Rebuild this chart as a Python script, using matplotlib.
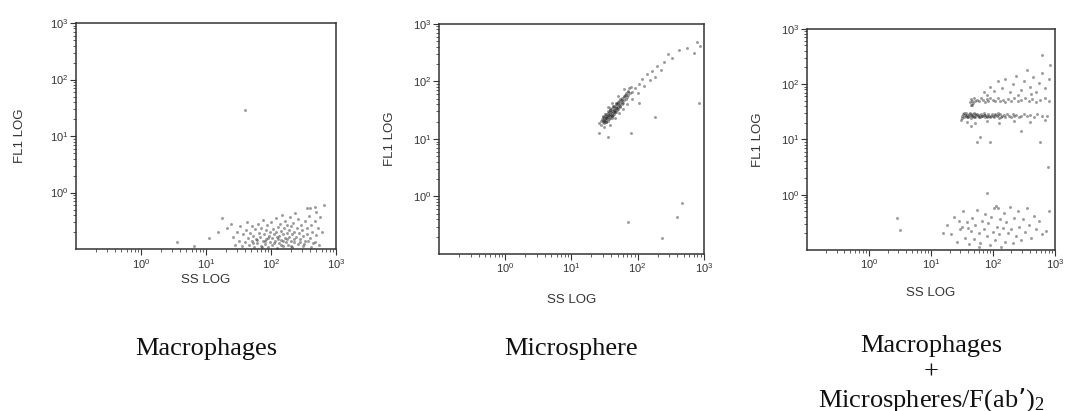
import matplotlib

matplotlib.use("Agg")
import matplotlib.pyplot as plt  # noqa: E402
import numpy as np  # noqa: E402
from matplotlib.ticker import FixedLocator, LogLocator, NullFormatter  # noqa: E402

plt.rcParams["font.family"] = ["Liberation Sans", "DejaVu Sans"]
plt.rcParams["mathtext.default"] = "regular"

# Event positions, in decades (log10 of channel value).
# Panel 1: macrophages alone
mac_ss = [
    1.32, 1.38, 1.41, 1.45, 1.48, 1.50, 1.52, 1.55, 1.57, 1.60, 1.61, 1.63, 1.65, 1.66,
    1.68, 1.70, 1.71, 1.73, 1.74, 1.76, 1.77, 1.79, 1.80, 1.81, 1.83, 1.84, 1.85, 1.87,
    1.88, 1.89, 1.90, 1.92, 1.93, 1.94, 1.95, 1.97, 1.98, 1.99, 2.00, 2.01, 2.02, 2.03,
    2.05, 2.06, 2.07, 2.08, 2.09, 2.10, 2.11, 2.12, 2.13, 2.14, 2.15, 2.16, 2.17, 2.18,
    2.19, 2.20, 2.21, 2.22, 2.23, 2.24, 2.25, 2.26, 2.27, 2.28, 2.29, 2.30, 2.31, 2.32,
    2.33, 2.34, 2.35, 2.36, 2.37, 2.38, 2.40, 2.41, 2.42, 2.43, 2.45, 2.46, 2.48, 2.49,
    2.50, 2.52, 2.53, 2.55, 2.56, 2.58, 2.60, 2.61, 2.63, 2.65, 2.67, 2.70, 2.72, 2.75,
    2.78, 2.82, 1.72, 1.78, 1.86, 1.91, 1.96, 2.04, 2.09, 2.15, 2.19, 2.24, 2.30, 2.35,
    2.44, 2.51, 2.57, 2.62, 2.68, 2.74, 2.55, 2.60, 2.68, 2.70, 0.55, 0.82, 1.05, 1.18,
    1.25, 1.60,
]
mac_fl1 = [
    -0.62, -0.55, -0.78, -0.92, -0.70, -0.85, -0.60, -0.95, -0.74, -0.88, -0.66, -0.52,
    -0.81, -0.93, -0.71, -0.59, -0.86, -0.77, -0.97, -0.64, -0.83, -0.90, -0.55, -0.72,
    -0.79, -0.94, -0.62, -0.85, -0.48, -0.73, -0.91, -0.67, -0.82, -0.58, -0.96, -0.76,
    -0.69, -0.88, -0.52, -0.80, -0.93, -0.64, -0.74, -0.86, -0.45, -0.70, -0.98, -0.61,
    -0.83, -0.77, -0.90, -0.55, -0.68, -0.84, -0.39, -0.73, -0.95, -0.63, -0.81, -0.50,
    -0.88, -0.71, -0.58, -0.92, -0.66, -0.79, -0.44, -0.85, -0.60, -0.74, -0.97, -0.53,
    -0.69, -0.87, -0.36, -0.78, -0.62, -0.91, -0.47, -0.72, -0.83, -0.57, -0.67, -0.94,
    -0.76, -0.51, -0.86, -0.63, -0.73, -0.41, -0.80, -0.58, -0.69, -0.89, -0.50, -0.75,
    -0.62, -0.43, -0.70, -0.22, -0.89, -0.84, -0.97, -0.86, -0.80, -0.89, -0.79, -0.93,
    -0.86, -0.83, -0.94, -0.82, -0.88, -0.91, -0.85, -0.96, -0.87, -0.92, -0.28, -0.27,
    -0.25, -0.35, -0.88, -0.94, -0.80, -0.70, -0.45, 1.46,
]

# Panel 2: microspheres alone
sph_ss = [
    1.42, 1.44, 1.45, 1.46, 1.47, 1.48, 1.48, 1.49, 1.50, 1.50, 1.51, 1.51, 1.52, 1.52,
    1.53, 1.53, 1.54, 1.54, 1.55, 1.55, 1.56, 1.56, 1.57, 1.57, 1.58, 1.58, 1.59, 1.59,
    1.60, 1.60, 1.61, 1.61, 1.62, 1.62, 1.63, 1.63, 1.64, 1.64, 1.65, 1.65, 1.66, 1.66,
    1.67, 1.67, 1.68, 1.68, 1.69, 1.69, 1.70, 1.71, 1.71, 1.72, 1.73, 1.73, 1.74, 1.75,
    1.76, 1.76, 1.77, 1.78, 1.79, 1.80, 1.81, 1.82, 1.83, 1.84, 1.85, 1.86, 1.87, 1.88,
    1.90, 1.91, 1.50, 1.58, 1.66, 1.72, 1.78, 1.84, 1.62, 1.55, 1.70, 1.80, 1.92, 1.96,
    2.00, 2.02, 2.06, 2.10, 2.14, 2.18, 2.22, 2.26, 2.30, 2.35, 2.40, 2.46, 2.52, 2.62,
    2.75, 2.90, 2.94, 2.02, 2.26, 1.55, 1.90, 2.93, 2.67, 2.60, 2.37, 1.85, 1.42, 2.85,
    1.47, 1.49, 1.51, 1.53, 1.55, 1.57, 1.59, 1.61, 1.63, 1.65, 1.67, 1.69, 1.72, 1.74,
    1.77, 1.80, 1.83, 1.86, 1.53, 1.58, 1.62, 1.66, 1.70,
]
sph_fl1 = [
    1.27, 1.31, 1.25, 1.35, 1.29, 1.33, 1.38, 1.27, 1.36, 1.31, 1.40, 1.34, 1.29, 1.38,
    1.43, 1.33, 1.36, 1.40, 1.31, 1.45, 1.38, 1.42, 1.35, 1.47, 1.40, 1.44, 1.37, 1.50,
    1.42, 1.46, 1.39, 1.52, 1.45, 1.49, 1.42, 1.55, 1.47, 1.51, 1.44, 1.57, 1.50, 1.54,
    1.47, 1.60, 1.53, 1.57, 1.50, 1.63, 1.56, 1.60, 1.52, 1.66, 1.58, 1.62, 1.55, 1.68,
    1.61, 1.65, 1.71, 1.63, 1.74, 1.67, 1.77, 1.70, 1.80, 1.73, 1.84, 1.76, 1.88, 1.79,
    1.91, 1.82, 1.20, 1.25, 1.36, 1.45, 1.52, 1.60, 1.62, 1.55, 1.74, 1.86, 1.70, 1.88,
    1.80, 1.95, 2.05, 1.92, 2.12, 2.02, 2.18, 2.08, 2.27, 2.20, 2.34, 2.48, 2.40, 2.55,
    2.58, 2.68, 2.62, 1.62, 1.38, 1.03, 1.10, 1.63, -0.11, -0.36, -0.72, -0.44, 1.10, 2.50,
    1.39, 1.32, 1.43, 1.37, 1.48, 1.41, 1.53, 1.36, 1.58, 1.49, 1.63, 1.54, 1.59, 1.70,
    1.67, 1.72, 1.76, 1.81, 1.30, 1.51, 1.40, 1.46, 1.65,
]

# Panel 3: macrophages + microspheres/F(ab')2
mix_ss = [
    # lower bright band
    1.50, 1.52, 1.53, 1.55, 1.56, 1.58, 1.59, 1.61, 1.62, 1.64, 1.65, 1.67, 1.68, 1.70,
    1.71, 1.73, 1.75, 1.76, 1.78, 1.80, 1.81, 1.83, 1.85, 1.87, 1.88, 1.90, 1.92, 1.94,
    1.96, 1.98, 2.00, 2.02, 2.04, 2.06, 2.08, 2.10, 2.12, 2.15, 2.18, 2.20, 2.23, 2.26,
    2.29, 2.32, 2.35, 2.38, 2.42, 2.46, 2.50, 2.55, 2.60, 2.66, 2.72, 2.80, 2.88, 1.51,
    1.54, 1.57, 1.60, 1.63, 1.66, 1.69, 1.72, 1.77, 1.82, 1.86, 1.91, 1.97, 2.03, 2.09,
    2.14, 1.48, 1.58, 1.72, 1.90, 2.10, 2.35, 2.60, 1.74, 1.95, 2.76, 1.80, 2.45, 1.65,
    2.85,
    # upper band
    1.63, 1.65, 1.67, 1.70, 1.72, 1.75, 1.78, 1.81, 1.84, 1.87, 1.90, 1.93, 1.96, 2.00,
    2.04, 2.08, 2.12, 2.16, 2.20, 2.25, 2.30, 2.35, 2.40, 2.46, 2.52, 2.58, 2.64, 2.70,
    2.76, 2.84, 2.90, 1.64, 1.66, 1.68,
    # sparse above
    1.85, 1.95, 2.02, 2.08, 2.15, 2.20, 2.28, 2.32, 2.38, 2.45, 2.50, 2.55, 2.60, 2.65,
    2.70, 2.75, 2.80, 2.85, 2.90, 2.79, 2.93, 2.40, 2.62, 1.90,
    # macrophage cluster
    1.26, 1.32, 1.38, 1.42, 1.47, 1.52, 1.55, 1.58, 1.62, 1.64, 1.67, 1.70, 1.72, 1.75,
    1.77, 1.80, 1.82, 1.85, 1.87, 1.90, 1.92, 1.95, 1.97, 2.00, 2.02, 2.04, 2.06, 2.08,
    2.10, 2.12, 2.14, 2.16, 2.18, 2.20, 2.22, 2.25, 2.27, 2.30, 2.32, 2.35, 2.38, 2.40,
    2.43, 2.46, 2.49, 2.52, 2.55, 2.58, 2.62, 2.66, 2.70, 2.75, 2.80, 2.86, 2.90, 1.60,
    1.50, 1.45, 2.05, 1.78,
    # outliers
    0.50, 0.45, 1.90, 2.89, 1.20,
]
mix_fl1 = [
    1.42, 1.45, 1.40, 1.44, 1.47, 1.41, 1.44, 1.46, 1.42, 1.44, 1.39, 1.45, 1.43, 1.47,
    1.41, 1.44, 1.46, 1.42, 1.44, 1.40, 1.45, 1.43, 1.47, 1.41, 1.44, 1.42, 1.46, 1.43,
    1.40, 1.45, 1.43, 1.41, 1.46, 1.42, 1.44, 1.39, 1.45, 1.42, 1.44, 1.40, 1.46, 1.43,
    1.41, 1.45, 1.42, 1.44, 1.40, 1.43, 1.46, 1.42, 1.44, 1.41, 1.45, 1.43, 1.42, 1.38,
    1.48, 1.43, 1.40, 1.47, 1.42, 1.40, 1.46, 1.41, 1.43, 1.44, 1.40, 1.43, 1.44, 1.47,
    1.41, 1.35, 1.32, 1.30, 1.33, 1.30, 1.34, 1.32, 0.95, 0.95, 0.95, 1.05, 1.15, 1.25,
    1.35,
    1.68, 1.73, 1.70, 1.75, 1.69, 1.72, 1.70, 1.74, 1.71, 1.68, 1.73, 1.70, 1.75, 1.71,
    1.69, 1.74, 1.70, 1.72, 1.68, 1.73, 1.70, 1.74, 1.69, 1.72, 1.75, 1.70, 1.73, 1.68,
    1.72, 1.74, 1.70, 1.62, 1.63, 1.66,
    1.85, 1.95, 1.88, 2.05, 1.92, 2.10, 1.86, 2.00, 2.15, 1.90, 2.05, 2.26, 1.95, 2.12,
    1.85, 2.02, 2.20, 1.92, 2.10, 2.53, 2.35, 1.80, 1.82, 1.80,
    -0.55, -0.72, -0.40, -0.85, -0.62, -0.30, -0.78, -0.50, -0.90, -0.65, -0.42, -0.80,
    -0.55, -0.28, -0.70, -0.88, -0.48, -0.62, -0.35, -0.75, -0.52, -0.92, -0.40, -0.68,
    -0.25, -0.82, -0.58, -0.24, -0.72, -0.45, -0.95, -0.60, -0.33, -0.85, -0.50, -0.70,
    -0.22, -0.62, -0.88, -0.42, -0.75, -0.30, -0.58, -0.82, -0.45, -0.68, -0.25, -0.55,
    -0.78, -0.38, -0.62, -0.48, -0.72, -0.66, -0.30, -0.60, -0.58, -0.48, -0.20, -0.95,
    -0.64, -0.42, 0.03, 0.50, -0.70,
]

CAPTIONS = [
    ["Macrophages"],
    ["Microsphere"],
    ["Macrophages", "+", "Microspheres/F(ab\u2019)$_2$"],
]
DECADES = [1, 10, 100, 1000]
DECADE_LABELS = ["$10^{0}$", "$10^{1}$", "$10^{2}$", "$10^{3}$"]

# axes boxes in figure fractions [left, bottom, width, height]
BOXES = [
    [0.0712, 0.394, 0.2434, 0.550],
    [0.411, 0.382, 0.248, 0.560],
    [0.7556, 0.392, 0.232, 0.538],
]
# label/caption positions in pixels (from the top-left of the picture)
YLABEL_X = [20, 390, 758]
XLABEL_Y = [280, 300, 293]
CAPTION_Y = [349, 349, 346]
CAPTION_STEP = 27

fig = plt.figure(figsize=(10.68, 4.11), dpi=100, facecolor="white")
panels = [(mac_ss, mac_fl1), (sph_ss, sph_fl1), (mix_ss, mix_fl1)]

for i, (ss, fl1) in enumerate(panels):
    ax = fig.add_axes(BOXES[i])
    ax.scatter(
        10 ** np.asarray(ss), 10 ** np.asarray(fl1),
        s=4.5, marker="o", color="#222222", alpha=0.45, linewidths=0,
    )
    ax.set_xscale("log")
    ax.set_yscale("log")
    ax.set_xlim(0.1, 1000)
    ax.set_ylim(0.1, 1000)
    for axis in (ax.xaxis, ax.yaxis):
        axis.set_major_locator(FixedLocator(DECADES))
        axis.set_minor_locator(LogLocator(base=10, subs=np.arange(2, 10), numticks=20))
        axis.set_minor_formatter(NullFormatter())
    ax.set_xticklabels(DECADE_LABELS)
    ax.set_yticklabels(DECADE_LABELS)
    ax.tick_params(which="major", direction="out", length=4, width=0.8,
                   labelsize=8, colors="#333333", pad=1.5)
    ax.tick_params(which="minor", direction="out", length=2.5, width=0.6,
                   colors="#444444")
    for spine in ax.spines.values():
        spine.set_linewidth(1.1)
        spine.set_color("#333333")

    bx = BOXES[i]
    cx = bx[0] + bx[2] / 2
    fig.text(YLABEL_X[i] / 1068, bx[1] + bx[3] / 2, "FL1 LOG", rotation=90,
             ha="center", va="center", fontsize=9.5, color="#333333")
    fig.text(cx, 1 - XLABEL_Y[i] / 411, "SS LOG", ha="center", va="center",
             fontsize=9.5, color="#333333")
    for k, line in enumerate(CAPTIONS[i]):
        fig.text(cx, 1 - (CAPTION_Y[i] + k * CAPTION_STEP) / 411, line,
                 ha="center", va="center", fontsize=19,
                 family="Liberation Serif", color="#111111")

fig.savefig("out.png", dpi=100, facecolor="white")
